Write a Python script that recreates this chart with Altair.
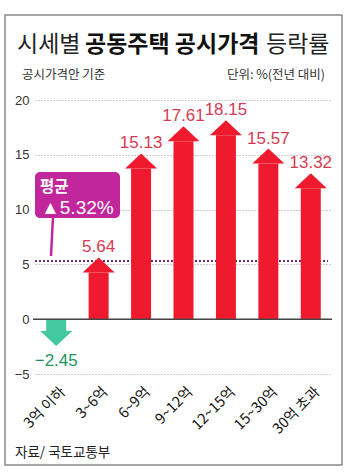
import altair as alt
import pandas as pd

categories = ["3억 이하", "3~6억", "6~9억", "9~12억", "12~15억", "15~30억", "30억 초과"]
values = [-2.45, 5.64, 15.13, 17.61, 18.15, 15.57, 13.32]
average = 5.32
y_ticks = [-5, 0, 5, 10, 15, 20]

title_parts = ["시세별", "공동주택 공시가격", "등락률"]
subtitle_left = "공시가격안 기준"
subtitle_right = "단위: %(전년 대비)"
source_text = "자료/ 국토교통부"
callout_title = "평균"
callout_value = "▲5.32%"

df = pd.DataFrame({"cat": categories, "v": values})
one = pd.DataFrame({"a": [0]})

W, H = 297, 274
HEAD_UNITS = 1.37  # arrow head height in value units (~15px)

RED = "#f01a2e"
GREEN = "#43c9a0"
RED_TXT = "#d83a52"
GREEN_TXT = "#23925f"
MAGENTA = "#c2269c"

KFONT = "Noto Sans CJK KR"
NFONT = "Liberation Sans"

x_enc = alt.X("cat:N", sort=categories,
              scale=alt.Scale(paddingInner=0, paddingOuter=0),
              axis=None)
y_scale = alt.Scale(domain=[-5, 20], nice=False, zero=False)
y_axis = alt.Axis(title=None, values=y_ticks, labelFont="Liberation Sans",
                  labelFontSize=13, labelColor="#333", labelPadding=6,
                  ticks=False, domain=False, grid=True, gridColor="#9a9a9a",
                  gridDash=[1, 2], gridWidth=1)

base = alt.Chart(df).transform_calculate(
    dir="datum.v < 0 ? 'down' : 'up'",
    shaft=f"datum.v < 0 ? datum.v + {HEAD_UNITS} : datum.v - {HEAD_UNITS}",
    zero="0",
    label="datum.v < 0 ? '−' + format(abs(datum.v), '.2f') : format(datum.v, '.2f')",
)

color_scale = alt.Scale(domain=["up", "down"], range=[RED, GREEN])

grid_layer = base.mark_bar(opacity=0).encode(
    x=x_enc, y=alt.Y("zero:Q", scale=y_scale, axis=y_axis))

x_labels = base.mark_text(font=KFONT, fontSize=14.5, color="#111", angle=315,
                          align="right", baseline="middle", dx=5, dy=5).encode(
    x=alt.X("cat:N", sort=categories), y=alt.value(H + 16), text="cat:N")

zero_rule = alt.Chart(one).mark_rule(color="#444", strokeWidth=1.5).encode(
    x=alt.value(-2), x2=alt.value(W), y=alt.datum(0))

avg_rule = alt.Chart(one).mark_rule(color="#6b2a7a", strokeWidth=2, strokeDash=[2, 2]).encode(
    x=alt.value(0), x2=alt.value(W - 4), y=alt.datum(average))

shafts = base.mark_bar(size=20).encode(
    x=alt.X("cat:N", sort=categories),
    y=alt.Y("shaft:Q", scale=y_scale),
    y2="zero:Q",
    color=alt.Color("dir:N", scale=color_scale, legend=None),
)

up_path = "M0,0L1,0.94L-1,0.94Z"
down_path = "M0,0L1,-0.94L-1,-0.94Z"
heads = base.mark_point(filled=True, opacity=1, strokeWidth=0, size=1024).encode(
    x=alt.X("cat:N", sort=categories),
    y=alt.Y("v:Q", scale=y_scale),
    shape=alt.Shape("dir:N", scale=alt.Scale(domain=["up", "down"], range=[up_path, down_path]), legend=None),
    color=alt.Color("dir:N", scale=color_scale, legend=None),
)

up_labels = base.transform_filter("datum.v >= 0").mark_text(
    font=NFONT, fontSize=17, color=RED_TXT, baseline="alphabetic", dy=-5).encode(
    x=alt.X("cat:N", sort=categories), y=alt.Y("v:Q", scale=y_scale), text="label:N")
down_labels = base.transform_filter("datum.v < 0").mark_text(
    font=NFONT, fontSize=17, color=GREEN_TXT, baseline="top", dy=7).encode(
    x=alt.X("cat:N", sort=categories), y=alt.Y("v:Q", scale=y_scale), text="label:N")

# callout
callout_box = alt.Chart(one).mark_rect(color=MAGENTA, cornerRadius=5).encode(
    x=alt.value(0), x2=alt.value(85), y=alt.value(72), y2=alt.value(118))
callout_ptr = alt.Chart(one).mark_rule(color=MAGENTA, strokeWidth=2.5).encode(
    x=alt.value(18), x2=alt.value(16), y=alt.value(117), y2=alt.value(156))
callout_t1 = alt.Chart(one).mark_text(font=KFONT, fontSize=15.5, fontWeight="bold", color="white",
                                      align="left", baseline="alphabetic").encode(
    x=alt.value(5), y=alt.value(92), text=alt.value(callout_title))
callout_t2 = alt.Chart(one).mark_text(font="Liberation Sans", fontSize=19, color="white",
                                      align="left", baseline="alphabetic").encode(
    x=alt.value(6), y=alt.value(114), text=alt.value(callout_value))

# frame, titles
frame = alt.Chart(one).mark_rect(fill="white", fillOpacity=0, stroke="#8a8a8a", strokeWidth=1.5).encode(
    x=alt.value(-30), x2=alt.value(307), y=alt.value(-85), y2=alt.value(365))

t_a = alt.Chart(one).mark_text(font=KFONT, fontSize=23, color="#222", align="left",
                               baseline="alphabetic").encode(
    x=alt.value(-18), y=alt.value(-48), text=alt.value(title_parts[0]))
t_b = alt.Chart(one).mark_text(font=KFONT, fontSize=23, fontWeight="bold", color="#111",
                               align="left", baseline="alphabetic").encode(
    x=alt.value(50), y=alt.value(-48), text=alt.value(title_parts[1]))
t_c = alt.Chart(one).mark_text(font=KFONT, fontSize=23, color="#222", align="left",
                               baseline="alphabetic").encode(
    x=alt.value(231), y=alt.value(-48), text=alt.value(title_parts[2]))
sub_l = alt.Chart(one).mark_text(font=KFONT, fontSize=12.5, color="#333", align="left",
                                 baseline="alphabetic").encode(
    x=alt.value(-13), y=alt.value(-21), text=alt.value(subtitle_left))
sub_r = alt.Chart(one).mark_text(font=KFONT, fontSize=12.5, color="#333", align="right",
                                 baseline="alphabetic").encode(
    x=alt.value(290), y=alt.value(-21), text=alt.value(subtitle_right))
src = alt.Chart(one).mark_text(font=KFONT, fontSize=13.5, color="#222", align="left",
                               baseline="alphabetic").encode(
    x=alt.value(-20), y=alt.value(357), text=alt.value(source_text))

chart = alt.layer(
    grid_layer, frame, avg_rule, shafts, heads, zero_rule, up_labels, down_labels, x_labels,
    callout_ptr, callout_box, callout_t1, callout_t2,
    t_a, t_b, t_c, sub_l, sub_r, src,
).properties(
    width=W, height=H,
    autosize=alt.AutoSizeParams(type="none"),
    padding={"left": 35, "top": 100, "right": 20, "bottom": 98},
    background="white",
).configure_view(stroke=None)

chart.save("out.html", embed_options={"renderer": "svg", "actions": False})
